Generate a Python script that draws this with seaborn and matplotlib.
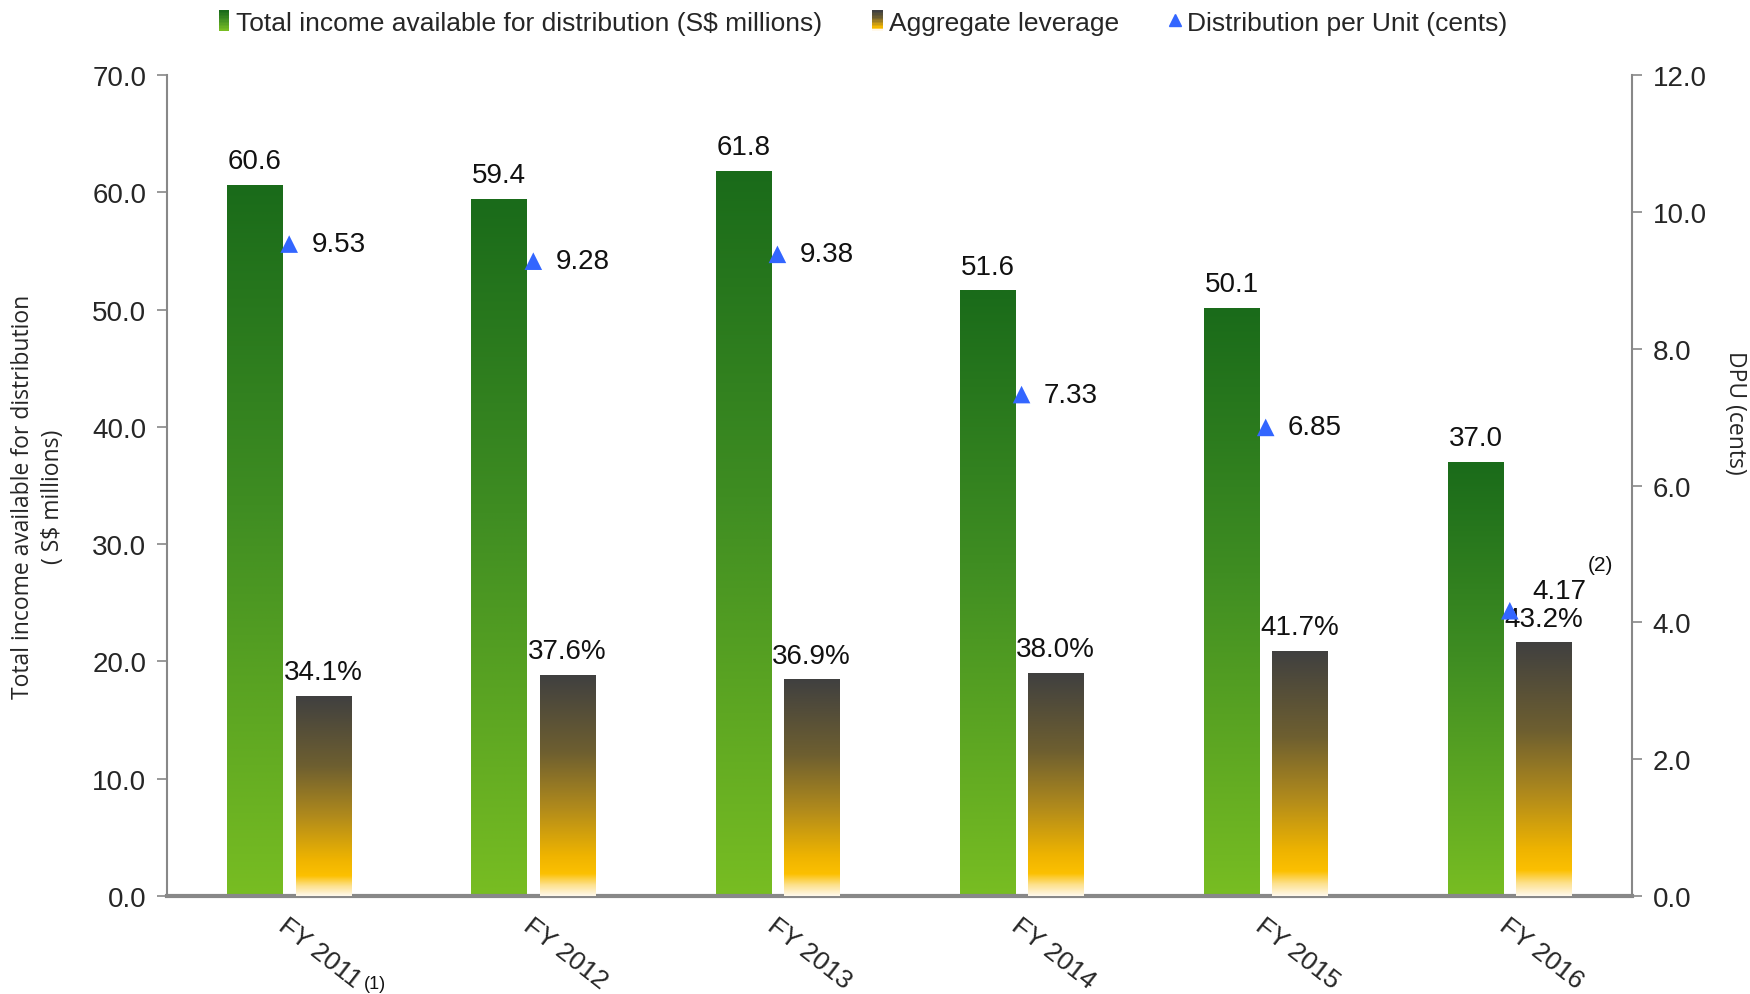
import numpy as np
import pandas as pd
import matplotlib
matplotlib.use("Agg")
import matplotlib.pyplot as plt
import seaborn as sns
from matplotlib.colors import LinearSegmentedColormap
from matplotlib.legend_handler import HandlerBase
from matplotlib.patches import Rectangle
from matplotlib.lines import Line2D

# ---- data ----
years = ["FY 2011", "FY 2012", "FY 2013", "FY 2014", "FY 2015", "FY 2016"]
year_notes = {"FY 2011": "(1)"}
income = [60.6, 59.4, 61.8, 51.6, 50.1, 37.0]        # S$ millions
leverage = [34.1, 37.6, 36.9, 38.0, 41.7, 43.2]      # %
dpu = [9.53, 9.28, 9.38, 7.33, 6.85, 4.17]           # cents
dpu_notes = {"FY 2016": "(2)"}

sns.set_theme(style="white")
plt.rcParams["font.family"] = ["Liberation Sans", "DejaVu Sans"]

green_cmap = LinearSegmentedColormap.from_list(
    "inc", [(0.0, "#1a6b1a"), (0.45, "#3f8d22"), (1.0, "#78bd22")])
lev_cmap = LinearSegmentedColormap.from_list(
    "lev", [(0.0, "#404040"), (0.35, "#6e5f30"), (0.6, "#b08a1c"),
            (0.82, "#efb400"), (0.9, "#fcc000"), (0.95, "#fde08a"), (1.0, "#fff8ea")])

fig = plt.figure(figsize=(17.5, 9.95), dpi=100)
ax = fig.add_axes([0.0955, 0.0985, 0.837, 0.825])
ax3 = ax.twinx()   # leverage, hidden scale 0-140 %
ax2 = ax.twinx()   # DPU, right-hand scale

hue_order = ["income", "leverage"]
pal = {"income": "#3f8d22", "leverage": "#8a7030"}
df_inc = pd.DataFrame({"year": years, "series": "income", "value": income})
df_lev = pd.DataFrame({"year": years, "series": "leverage", "value": leverage})
df_dpu = pd.DataFrame({"year": years, "value": dpu})

sns.barplot(data=df_inc, x="year", y="value", hue="series", hue_order=hue_order,
            order=years, palette=pal, width=0.56, gap=0.19, dodge=True,
            errorbar=None, legend=False, ax=ax)
sns.barplot(data=df_lev, x="year", y="value", hue="series", hue_order=hue_order,
            order=years, palette=pal, width=0.56, gap=0.19, dodge=True,
            errorbar=None, legend=False, ax=ax3)
sns.scatterplot(data=df_dpu, x="year", y="value", marker="^", s=160,
                color="#3366ff", edgecolor="none", legend=False, ax=ax2, zorder=5)

grad = np.linspace(0, 1, 256).reshape(-1, 1)
LABEL_FS = 20


def shade_bars(axis, cmap, values, fmt):
    bars = [p for p in axis.patches if np.isfinite(p.get_height()) and p.get_height() > 0]
    bars.sort(key=lambda p: p.get_x())
    for p, v in zip(bars, values):
        x0, w, h = p.get_x(), p.get_width(), p.get_height()
        axis.imshow(grad, extent=[x0, x0 + w, 0, h], aspect="auto", cmap=cmap,
                    origin="upper", interpolation="bilinear", zorder=2)
        p.set_visible(False)
        axis.annotate(fmt.format(v), (x0 + w / 2, h), xytext=(0, 8),
                      textcoords="offset points", ha="center", va="bottom",
                      fontsize=LABEL_FS, color="#111111")


shade_bars(ax, green_cmap, income, "{:.1f}")
shade_bars(ax3, lev_cmap, leverage, "{:.1f}%")

for i, (yr, v) in enumerate(zip(years, dpu)):
    if yr in dpu_notes:
        ax2.annotate(f"{v:.2f}", (i, v), xytext=(16, 14), textcoords="offset points",
                     ha="left", va="center", fontsize=LABEL_FS, color="#111111")
        ax2.annotate(dpu_notes[yr], (i, v), xytext=(56, 33), textcoords="offset points",
                     ha="left", va="center", fontsize=15, color="#111111")
    else:
        ax2.annotate(f"{v:.2f}", (i, v), xytext=(16, 0), textcoords="offset points",
                     ha="left", va="center", fontsize=LABEL_FS, color="#111111")

# ---- axes ----
for a in (ax, ax2, ax3):
    a.set_xlim(-0.5, 5.5)
    a.set_xlabel("")
    a.set_ylabel("")
    a.grid(False)
ax.set_ylim(0, 70)
ax3.set_ylim(0, 140)
ax2.set_ylim(0, 12)

ax.set_yticks(np.arange(0, 70.1, 10))
ax.set_yticklabels([f"{t:.1f}" for t in np.arange(0, 70.1, 10)], fontsize=LABEL_FS)
ax2.set_yticks(np.arange(0, 12.1, 2))
ax2.set_yticklabels([f"{t:.1f}" for t in np.arange(0, 12.1, 2)], fontsize=LABEL_FS)
ax3.set_yticks([])
ax3.tick_params(axis="both", length=0, labelleft=False, labelright=False, labelbottom=False)
ax2.tick_params(axis="x", length=0, labelbottom=False)

ax.set_xticks(range(len(years)))
ax.set_xticklabels(years, rotation=-38, ha="left", rotation_mode="anchor",
                   fontsize=19)
ax.tick_params(axis="x", length=0, pad=12)
ax.tick_params(axis="y", length=7, width=1.2, color="#888888", direction="out", pad=8, left=True)
ax2.tick_params(axis="y", length=7, width=1.2, color="#888888", direction="out", pad=8, right=True)

# footnote marker after the first year label
for i, yr in enumerate(years):
    if yr in year_notes:
        ax.annotate(year_notes[yr], (i, 0), xycoords=("data", "axes fraction"),
                    xytext=(54, -69), textcoords="offset points",
                    ha="left", va="bottom", fontsize=13, color="#111111",
                    annotation_clip=False)

for a in (ax, ax2, ax3):
    for s in a.spines.values():
        s.set_visible(False)
ax.spines["left"].set_visible(True)
ax.spines["left"].set_color("#888888")
ax.spines["left"].set_linewidth(1.5)
ax.spines["bottom"].set_visible(True)
ax.spines["bottom"].set_color("#888888")
ax.spines["bottom"].set_linewidth(3)
ax2.spines["right"].set_visible(True)
ax2.spines["right"].set_color("#888888")
ax2.spines["right"].set_linewidth(1.5)

ax.set_ylabel("Total income available for distribution\n( S$ millions)",
              fontsize=16.5, family=["Open Sans", "DejaVu Sans"],
              linespacing=1.35, va="center", ha="center")
ax.yaxis.set_label_coords(-0.088, 0.488)
ax2.set_ylabel("DPU (cents)", fontsize=16.5, family=["Open Sans", "DejaVu Sans"],
               rotation=-90, va="center", ha="center")
ax2.yaxis.set_label_coords(1.0705, 0.59)


# ---- legend ----
class GradientHandler(HandlerBase):
    def __init__(self, cmap, steps=14):
        super().__init__()
        self.cmap = cmap
        self.steps = steps

    def create_artists(self, legend, orig_handle, xdescent, ydescent,
                       width, height, fontsize, trans):
        arts = []
        for k in range(self.steps):
            y = -ydescent + height * (1 - (k + 1) / self.steps)
            arts.append(Rectangle((-xdescent, y), width, height / self.steps + 0.3,
                                  facecolor=self.cmap(k / (self.steps - 1)),
                                  edgecolor="none", transform=trans))
        return arts


h_inc = Rectangle((0, 0), 1, 1)
h_lev = Rectangle((0, 0), 1, 1)
h_dpu = Line2D([], [], marker="^", color="#3366ff", linestyle="none", markersize=8)
fig.legend([h_inc, h_lev, h_dpu],
           ["Total income available for distribution (S$ millions)",
            "Aggregate leverage", "Distribution per Unit (cents)"],
           handler_map={h_inc: GradientHandler(green_cmap),
                        h_lev: GradientHandler(lev_cmap)},
           loc="center", bbox_to_anchor=(0.493, 0.976), ncol=3, frameon=False,
           fontsize=19, handlelength=0.4, handleheight=0.8, handletextpad=0.25,
           columnspacing=1.9)

fig.savefig("out.png", dpi=100)
